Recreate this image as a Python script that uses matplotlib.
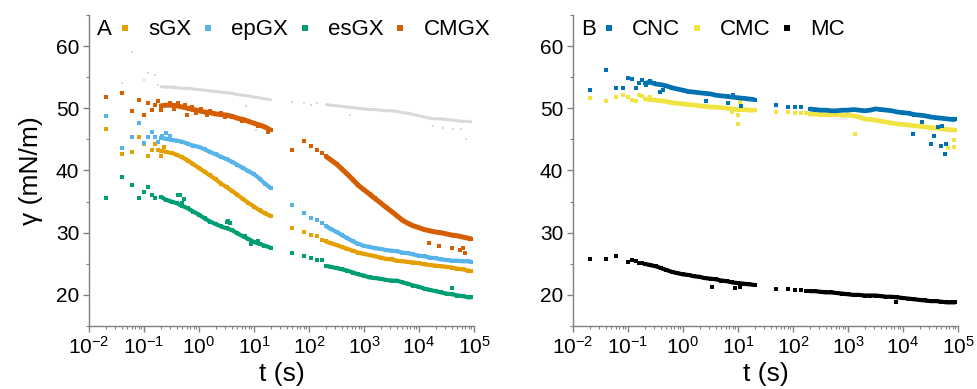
import matplotlib
matplotlib.use("Agg")
import matplotlib.pyplot as plt
from matplotlib.lines import Line2D
from matplotlib.ticker import LogLocator, MultipleLocator, NullFormatter, LogFormatterMathtext

plt.rcParams['font.family'] = ['Liberation Sans', 'DejaVu Sans']
plt.rcParams['mathtext.fontset'] = 'custom'
plt.rcParams['mathtext.rm'] = 'Liberation Sans'
plt.rcParams['mathtext.it'] = 'Liberation Sans:italic'
plt.rcParams['mathtext.bf'] = 'Liberation Sans:bold'

# ---------------- data ----------------
# dense band sections, shared time grids
t_band1 = [0.2, 0.25, 0.32, 0.4, 0.5, 0.63, 0.79, 1.0, 1.26, 1.58, 2.0, 2.5, 3.2, 4.0,
           5.0, 6.3, 7.9, 10, 12.6, 15.8, 20]
t_band2 = [200, 250, 320, 400, 500, 630, 790, 1000, 1260, 1580, 2000, 2500, 3200, 4000,
           5000, 6300, 7900, 10000, 12600, 15800, 20000, 25000, 32000, 40000, 50000,
           63000, 79000, 90000]

# Panel A
cmgx_band1 = [50.4, 50.5, 50.5, 50.4, 50.2, 50.0, 49.8, 49.6, 49.4, 49.3, 49.1, 49.0, 48.9,
              48.7, 48.4, 48.2, 47.9, 47.6, 47.3, 47.0, 46.5]
cmgx_band2 = [42.3, 41.7, 41.0, 40.2, 39.4, 38.5, 37.6, 36.9, 36.2, 35.5, 34.8, 34.1, 33.4,
              32.7, 32.0, 31.5, 31.1, 30.8, 30.5, 30.3, 30.1, 30.0, 29.8, 29.6, 29.5, 29.3,
              29.1, 29.0]
cmgx_pts_t = [0.02, 0.04, 0.06, 0.08, 0.1, 0.12, 0.14, 0.16, 0.18, 0.2, 0.6,
              0.3, 0.42, 0.55, 0.75, 1.1, 1.6, 2.5, 4, 0.35, 0.9, 1.4, 3, 6, 12, 18,
              50, 80, 110, 140, 170, 15500, 23000, 40000, 56000, 62000, 69000]
cmgx_pts_g = [51.8, 52.4, 49.5, 51.4, 48.9, 50.9, 49.8, 50.6, 51.2, 49.8, 48.9,
              50.9, 50.9, 50.6, 50.2, 49.9, 49.6, 49.3, 48.6, 49.9, 49.3, 49.0, 48.6, 47.9, 47.2, 46.2,
              43.3, 44.8, 44.0, 43.3, 42.8, 28.3, 27.9, 27.5, 27.2, 27.5, 26.8]

epgx_band1 = [45.3, 45.1, 44.9, 44.8, 44.6, 44.3, 44.0, 43.8, 43.4, 43.0, 42.6, 42.2, 41.8,
              41.4, 40.9, 40.4, 39.9, 39.4, 38.7, 37.9, 37.2]
epgx_band2 = [31.1, 30.6, 30.1, 29.6, 29.1, 28.6, 28.2, 27.9, 27.7, 27.5, 27.4, 27.2, 27.1,
              27.0, 26.8, 26.7, 26.5, 26.3, 26.2, 26.0, 25.9, 25.7, 25.6, 25.5, 25.5, 25.4,
              25.4, 25.3]
epgx_pts_t = [0.02, 0.04, 0.06, 0.08, 0.1, 0.12, 0.14, 0.16, 0.18, 0.21, 0.25, 0.3,
              50, 80, 110, 140, 170]
epgx_pts_g = [48.8, 43.6, 45.4, 47.7, 44.4, 45.4, 46.2, 45.4, 44.6, 45.6, 46.0, 45.6,
              34.5, 33.1, 32.4, 32.0, 31.5]

sgx_band1 = [43.2, 43.0, 42.8, 42.5, 42.1, 41.6, 41.0, 40.4, 39.8, 39.2, 38.6, 37.9, 37.3,
             36.7, 36.1, 35.4, 34.8, 34.2, 33.6, 33.1, 32.7]
sgx_band2 = [28.6, 28.3, 28.0, 27.7, 27.4, 27.1, 26.8, 26.6, 26.4, 26.2, 26.0, 25.8, 25.7,
             25.5, 25.4, 25.3, 25.2, 25.1, 24.9, 24.8, 24.7, 24.6, 24.5, 24.4, 24.2, 24.1,
             23.9, 23.8]
sgx_pts_t = [0.02, 0.04, 0.06, 0.08, 0.1, 0.12, 0.14, 0.16, 0.18, 0.2, 0.23,
             50, 80, 110, 140, 170]
sgx_pts_g = [46.6, 42.7, 43.0, 45.4, 44.3, 42.4, 43.3, 44.3, 43.3, 42.4, 43.7,
             30.7, 30.1, 29.6, 29.4, 28.9]

esgx_band1 = [35.8, 35.3, 35.0, 34.7, 34.3, 33.9, 33.4, 32.9, 32.3, 31.8, 31.4, 31.0, 30.7,
              30.4, 29.9, 29.4, 29.0, 28.5, 28.2, 27.9, 27.6]
esgx_band2 = [24.7, 24.5, 24.3, 24.1, 23.9, 23.6, 23.3, 23.1, 22.8, 22.7, 22.6, 22.4, 22.3,
              22.3, 22.0, 21.8, 21.5, 21.3, 21.0, 20.8, 20.6, 20.4, 20.2, 20.1, 19.9, 19.8,
              19.6, 19.6]
esgx_pts_t = [0.02, 0.04, 0.06, 0.08, 0.1, 0.12, 0.14, 0.16, 0.41, 0.45, 0.54, 0.5,
              3.2, 3.4, 3.6, 7, 9, 12, 15, 50, 80, 110, 140, 170, 40000]
esgx_pts_g = [35.6, 39.0, 37.6, 35.5, 36.5, 37.4, 36.1, 35.6, 36.0, 36.1, 35.4, 34.8,
              31.7, 31.9, 31.5, 29.4, 28.2, 28.6, 27.8, 26.8, 26.3, 26.0, 25.6, 25.6, 21.1]

ref_band1 = [53.5, 53.4, 53.4, 53.3, 53.2, 53.2, 53.1, 53.0, 52.9, 52.8, 52.7, 52.6, 52.5,
             52.4, 52.2, 52.1, 52.0, 51.8, 51.7, 51.5, 51.4]
ref_band2 = [50.6, 50.5, 50.4, 50.3, 50.2, 50.1, 50.0, 49.9, 49.8, 49.8, 49.7, 49.6, 49.6,
             49.5, 49.3, 49.2, 49.0, 48.8, 48.6, 48.4, 48.3, 48.3, 48.2, 48.1, 48.0, 47.9,
             47.9, 47.8]
ref_pts_t = [0.04, 0.06, 0.1, 0.12, 0.16, 0.18, 7.1, 10.7, 50, 80, 110, 140,
             550, 17800, 27500, 41700, 58900, 72400]
ref_pts_g = [54.1, 59.1, 54.6, 55.6, 55.3, 53.8, 50.4, 46.5, 51.0, 50.9, 50.6, 50.8,
             48.9, 47.1, 46.9, 46.7, 46.6, 45.1]

# Panel B
cnc_band1 = [54.0, 54.2, 53.9, 53.8, 53.6, 53.3, 53.1, 52.9, 52.7, 52.6, 52.5, 52.4, 52.3,
             52.1, 52.0, 51.9, 51.8, 51.7, 51.6, 51.5, 51.4]
cnc_band2 = [49.9, 49.8, 49.7, 49.7, 49.6, 49.6, 49.7, 49.7, 49.8, 49.7, 49.6, 49.7, 49.9,
             49.8, 49.7, 49.6, 49.4, 49.3, 49.2, 49.0, 48.9, 48.8, 48.6, 48.5, 48.4, 48.3,
             48.2, 48.2]
cnc_pts_t = [0.02, 0.04, 0.06, 0.08, 0.1, 0.12, 0.14, 0.16, 0.18, 0.21, 0.25, 0.3, 0.38, 0.44,
             2.6, 6.6, 8.1, 11.5, 50, 80, 110, 140,
             15500, 21900, 32400, 36300, 43700, 49000, 52000, 58900, 60300]
cnc_pts_g = [53.0, 56.2, 53.2, 53.2, 54.9, 54.7, 53.2, 54.1, 54.6, 53.7, 54.4, 54.1, 52.6, 52.9,
             51.2, 50.8, 52.1, 50.4, 50.6, 50.2, 50.2, 50.2,
             45.8, 47.8, 44.3, 45.5, 47.0, 43.9, 47.2, 42.6, 44.3]

cmc_band1 = [51.5, 51.4, 51.3, 51.2, 51.1, 50.9, 50.8, 50.7, 50.6, 50.5, 50.4, 50.3, 50.2,
             50.2, 50.1, 50.0, 49.9, 49.8, 49.8, 49.7, 49.7]
cmc_band2 = [49.1, 49.1, 49.0, 49.0, 49.0, 49.0, 48.9, 48.9, 48.8, 48.6, 48.3, 48.2, 48.1,
             47.9, 47.8, 47.6, 47.5, 47.4, 47.3, 47.2, 47.1, 47.0, 46.9, 46.8, 46.7, 46.6,
             46.5, 46.5]
cmc_pts_t = [0.02, 0.04, 0.06, 0.08, 0.1, 0.12, 0.14, 0.16, 0.18, 0.25,
             7.9, 9.8, 10, 11, 50, 80, 110, 140, 170, 1320, 64600, 83200, 85100]
cmc_pts_g = [51.7, 51.2, 51.8, 52.1, 51.8, 51.3, 51.1, 52.1, 52.0, 51.8,
             49.4, 47.4, 48.9, 51.0, 49.4, 49.4, 49.2, 49.3, 49.2, 45.9, 43.6, 43.7, 44.9]

mc_band1 = [25.0, 24.8, 24.6, 24.3, 24.0, 23.7, 23.5, 23.3, 23.2, 23.0, 22.9, 22.7, 22.6,
            22.5, 22.3, 22.2, 22.0, 21.9, 21.8, 21.7, 21.6]
mc_band2 = [20.6, 20.6, 20.5, 20.4, 20.4, 20.3, 20.2, 20.1, 20.0, 20.0, 19.9, 19.9, 19.9,
            19.8, 19.7, 19.7, 19.6, 19.5, 19.4, 19.3, 19.2, 19.1, 19.0, 19.0, 18.9, 18.8,
            18.8, 18.8]
mc_pts_t = [0.02, 0.04, 0.06, 0.1, 0.12, 0.14, 0.16, 0.18, 3.4, 8.7, 10.7,
            50, 80, 110, 140, 170, 7600]
mc_pts_g = [25.8, 25.8, 26.3, 25.3, 25.6, 25.5, 25.2, 25.1, 21.3, 21.1, 21.2,
            21.0, 20.9, 20.8, 20.8, 20.7, 18.9]

labels_A = ['sGX', 'epGX', 'esGX', 'CMGX']
labels_B = ['CNC', 'CMC', 'MC']
colors_A = ['#E69F00', '#56B4E9', '#009E73', '#D55E00']
colors_B = ['#0072B2', '#F0E442', '#000000']
ref_color = '#D9D9D9'

# ---------------- figure ----------------
fig = plt.figure(figsize=(9.78, 3.89), dpi=100)
axA = fig.add_axes([89/978, 1-326/389, 385/978, 311/389])
axB = fig.add_axes([573/978, 1-326/389, 385/978, 311/389])

SPINE = '#808080'


def draw_series(ax, band1, band2, pts_t, pts_g, color, lw=3.0, ms=2.8, z=2):
    for tt, vv in ((t_band1, band1), (t_band2, band2)):
        ax.plot(tt, vv, '-', color=color, lw=lw, solid_capstyle='butt', zorder=z)
        ax.plot(tt, vv, 's', color=color, ms=ms, mew=0, zorder=z)
    ax.plot(pts_t, pts_g, 's', color=color, ms=ms, mew=0, zorder=z)


# panel A
draw_series(axA, ref_band1, ref_band2, ref_pts_t, ref_pts_g, ref_color, lw=2.2, ms=1.8, z=1)
draw_series(axA, sgx_band1, sgx_band2, sgx_pts_t, sgx_pts_g, colors_A[0])
draw_series(axA, epgx_band1, epgx_band2, epgx_pts_t, epgx_pts_g, colors_A[1])
draw_series(axA, esgx_band1, esgx_band2, esgx_pts_t, esgx_pts_g, colors_A[2])
draw_series(axA, cmgx_band1, cmgx_band2, cmgx_pts_t, cmgx_pts_g, colors_A[3], lw=3.6)

# panel B
draw_series(axB, cmc_band1, cmc_band2, cmc_pts_t, cmc_pts_g, colors_B[1], lw=3.4, z=2)
draw_series(axB, cnc_band1, cnc_band2, cnc_pts_t, cnc_pts_g, colors_B[0], lw=3.4, z=3)
draw_series(axB, mc_band1, mc_band2, mc_pts_t, mc_pts_g, colors_B[2], z=3)

for ax in (axA, axB):
    ax.set_xscale('log')
    ax.set_xlim(1e-2, 1e5)
    ax.set_ylim(15, 65)
    ax.xaxis.set_major_locator(LogLocator(base=10, numticks=20))
    ax.xaxis.set_minor_locator(LogLocator(base=10, subs=range(2, 10), numticks=100))
    ax.xaxis.set_major_formatter(LogFormatterMathtext())
    ax.xaxis.set_minor_formatter(NullFormatter())
    ax.yaxis.set_major_locator(MultipleLocator(10))
    ax.yaxis.set_minor_locator(MultipleLocator(5))
    ax.set_yticks([20, 30, 40, 50, 60])
    for s in ('top', 'right'):
        ax.spines[s].set_visible(False)
    for s in ('left', 'bottom'):
        ax.spines[s].set_color(SPINE)
        ax.spines[s].set_linewidth(1.0)
    ax.tick_params(which='major', direction='out', length=4, width=1.0, color=SPINE,
                   labelsize=15, labelcolor='black', pad=3)
    ax.tick_params(which='minor', direction='out', length=2.5, width=0.8, color=SPINE)
    ax.set_xlabel('t (s)', fontsize=19, labelpad=3)

axA.set_ylabel('γ (mN/m)', fontsize=19, labelpad=9)

# legends
def make_legend(ax, labels, colors, tag):
    handles = [Line2D([], [], ls='', marker='s', ms=5, mew=0, color=c) for c in colors]
    ax.text(0.021, 0.952, tag, transform=ax.transAxes, fontsize=16, va='center', ha='left')
    ax.legend(handles, labels, ncol=len(labels), loc='center left',
              bbox_to_anchor=(0.075, 0.952), frameon=False, fontsize=16,
              handlelength=0.6, handletextpad=0.75, columnspacing=0.45,
              borderpad=0, borderaxespad=0)

make_legend(axA, labels_A, colors_A, 'A')
make_legend(axB, labels_B, colors_B, 'B')

fig.savefig('out.png', dpi=100)
